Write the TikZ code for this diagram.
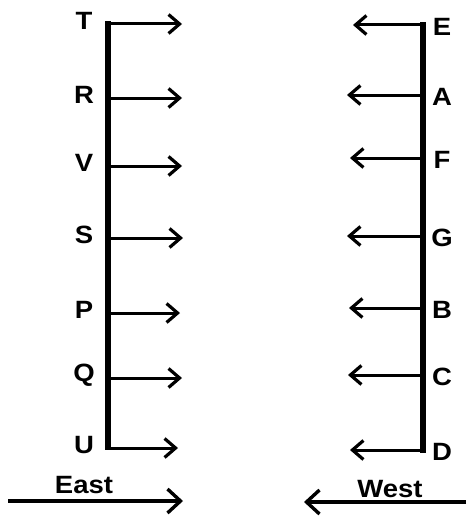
\documentclass[tikz,border=0pt]{standalone}
\usepackage{fontspec}
\setmainfont{Liberation Sans}
\usetikzlibrary{arrows.meta}
\begin{document}
\begin{tikzpicture}[x=1pt,y=-1pt,
  lbl/.style={font=\fontsize{25}{28}\selectfont\bfseries, inner sep=0pt, xscale=1.1},
  spine/.style={line width=6.5pt},
  ray/.style={line width=3pt, -{Straight Barb[length=11pt,width=19pt,line width=3.2pt]}},
  big/.style={line width=3.3pt, -{Straight Barb[length=13pt,width=24pt,line width=3.4pt]}}]
\useasboundingbox (0,0) rectangle (466,519);
% left column
\foreach \n/\y/\tx in {T/24/182, R/98/182, V/166/182, S/238/183, P/313/180, Q/378/182, U/448/178}{
  \node[lbl] (\n) at (84,\y-3) {\n};
  \coordinate (s\n) at (108,\y);
  \coordinate (t\n) at (\tx,\y);
  \draw[ray] (s\n) -- (t\n);
}
\draw[spine] (108,21.5) -- (108,450);
% right column
\foreach \n/\y/\tx in {E/25/353, A/95/347, F/158/350, G/236/347, B/308/349, C/375/348, D/450/350}{
  \node[lbl] (\n) at (442,\y+2) {\n};
  \coordinate (s\n) at (423,\y);
  \coordinate (t\n) at (\tx,\y);
  \draw[ray] (s\n) -- (t\n);
}
\draw[spine] (423,22.5) -- (423,452.5);
% bottom
\node[lbl] (east) at (84,485) {East};
\coordinate (e1) at (8,501);
\coordinate (e2) at (183,501);
\draw[big] (e1) -- (e2);
\node[lbl] (west) at (390,489) {West};
\coordinate (w1) at (466,502);
\coordinate (w2) at (304,502);
\draw[big] (w1) -- (w2);
\end{tikzpicture}
\end{document}
